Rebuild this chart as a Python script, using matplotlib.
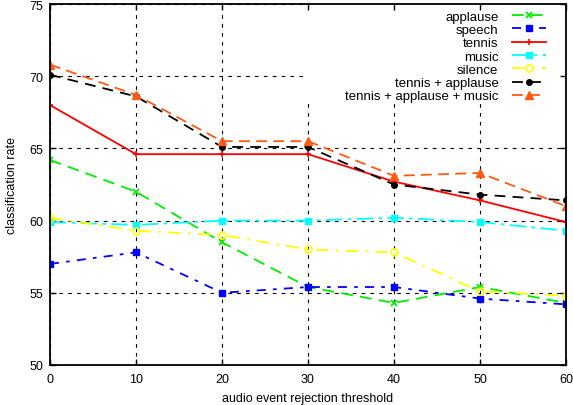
import matplotlib
matplotlib.use('Agg')
import matplotlib.pyplot as plt
from matplotlib.patches import Rectangle

# threshold values on the x axis
thresholds = [0, 10, 20, 30, 40, 50, 60]

# classification rate per event type
applause = [64.2, 62.0, 58.5, 55.4, 54.3, 55.4, 54.3]
speech = [57.0, 57.8, 55.0, 55.4, 55.4, 54.6, 54.2]
tennis = [68.0, 64.6, 64.6, 64.6, 62.7, 61.4, 59.9]
music = [59.9, 59.7, 60.0, 60.0, 60.2, 59.9, 59.3]
silence = [60.2, 59.3, 59.0, 58.0, 57.8, 55.1, 54.8]
tennis_applause = [70.1, 68.6, 65.1, 65.1, 62.5, 61.8, 61.4]
tennis_applause_music = [70.8, 68.7, 65.5, 65.5, 63.1, 63.3, 61.0]

y_ticks = [50, 55, 60, 65, 70, 75]

plt.rcParams['font.family'] = ['Liberation Sans', 'DejaVu Sans']
plt.rcParams['font.size'] = 9

fig = plt.figure(figsize=(5.73, 4.06), dpi=100)
pos = [50 / 573, 40 / 406, 516 / 573, 361 / 406]

# background axes: only the dashed grid
bg = fig.add_axes(pos)
bg.set_xlim(0, 60)
bg.set_ylim(50, 75)
bg.set_xticks(thresholds)
bg.set_yticks(y_ticks)
bg.grid(True, color='black', linestyle=(0, (3.3, 4.7)), linewidth=0.8)
bg.tick_params(length=0, labelbottom=False, labelleft=False)
for s in bg.spines.values():
    s.set_visible(False)

# main axes on top
ax = fig.add_axes(pos, facecolor='none')
ax.set_xlim(0, 60)
ax.set_ylim(50, 75)
ax.set_xticks(thresholds)
ax.set_yticks(y_ticks)

# white key area hides the grid behind the legend
ax.add_patch(Rectangle((0.49, 0.731), 0.51, 0.269, transform=ax.transAxes,
                       facecolor='white', edgecolor='none', zorder=1))

lw = 1.3
ms = 5
ax.plot(thresholds, applause, color='#00ee00', lw=lw, linestyle=(0, (6.5, 4)),
        marker='x', ms=ms, mew=1.3, label='applause')
ax.plot(thresholds, speech, color='#0000ff', lw=lw, linestyle=(0, (5, 4, 2, 4)),
        marker='s', ms=4.5, label='speech')
ax.plot(thresholds, tennis, color='#ff0000', lw=lw, linestyle='-',
        marker='+', ms=ms, mew=1.2, label='tennis')
ax.plot(thresholds, music, color='#00ffff', lw=lw, linestyle=(0, (9, 3, 2, 3)),
        marker='s', ms=4.5, label='music')
ax.plot(thresholds, silence, color='#ffff00', lw=lw, linestyle=(0, (7, 4, 1.5, 4)),
        marker='o', ms=ms, mfc='none', mew=1.2, label='silence')
ax.plot(thresholds, tennis_applause, color='black', lw=lw, linestyle=(0, (6, 4)),
        marker='o', ms=4, label='tennis + applause')
ax.plot(thresholds, tennis_applause_music, color='#ff5a14', lw=lw, linestyle=(0, (6, 3.5)),
        marker='^', ms=5.5, label='tennis + applause + music')

ax.tick_params(direction='in', length=4, width=1, top=True, right=True,
               labelsize=9, color='black')
ax.tick_params(axis='y', pad=5)
ax.tick_params(axis='x', pad=6)
for s in ax.spines.values():
    s.set_linewidth(1.3)

ax.set_xlabel('audio event rejection threshold', fontsize=9, labelpad=5)
ax.set_ylabel('classification rate', fontsize=9, labelpad=8)

ax.legend(loc='upper right', bbox_to_anchor=(0.961, 0.982), frameon=False,
          markerfirst=False, borderaxespad=0, borderpad=0, handlelength=2.6,
          handletextpad=1.0, labelspacing=0.08, fontsize=9.5, numpoints=1)

fig.savefig('out.png', dpi=100)
